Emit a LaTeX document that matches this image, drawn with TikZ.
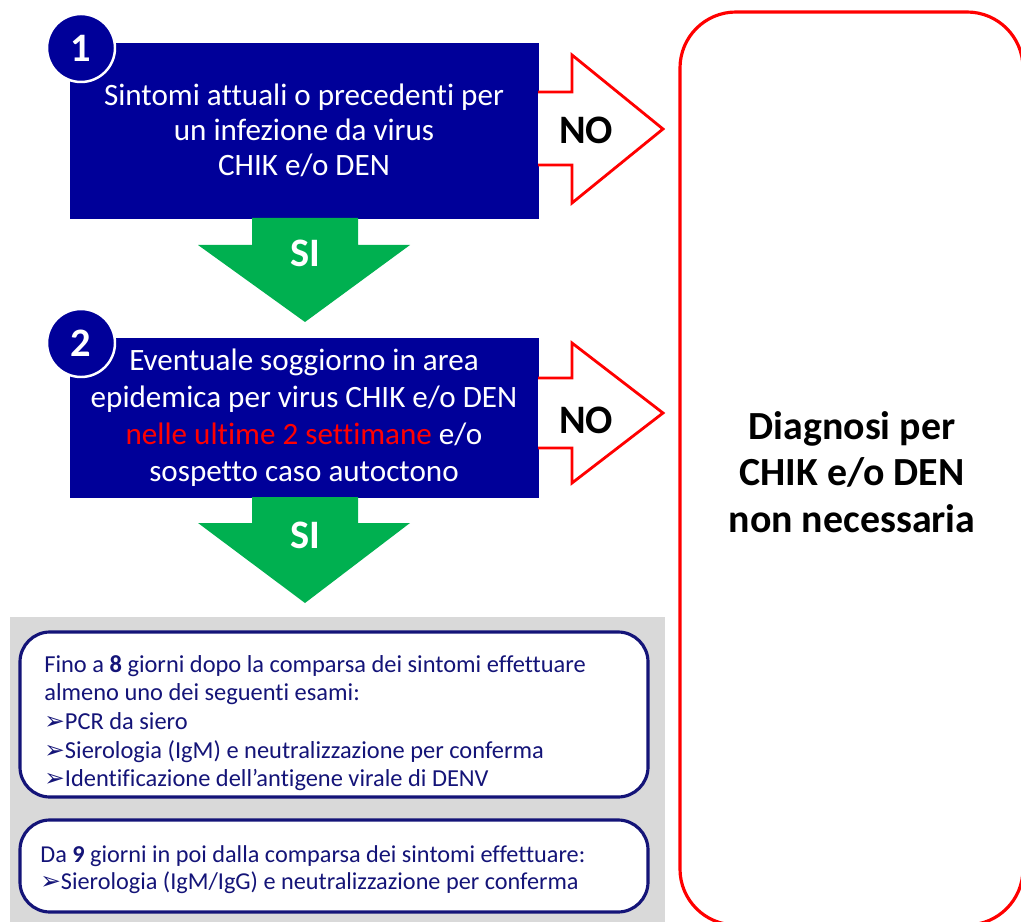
\documentclass[tikz,border=0pt]{standalone}
\usepackage{fontspec}
\setmainfont{Carlito}[Ligatures={NoCommon}]
\newfontfamily\bulletfont{DejaVu Sans}
\usetikzlibrary{positioning}

\definecolor{stepblue}{RGB}{0,0,153}
\definecolor{textblue}{RGB}{20,20,120}
\definecolor{sigreen}{RGB}{0,176,80}
\definecolor{nored}{RGB}{255,0,0}
\definecolor{panelgray}{RGB}{217,217,217}

\newcommand{\arrowbullet}{{\bulletfont\fontsize{14}{12}\selectfont\char"27A2}}

\tikzset{
  stepbox/.style={fill=stepblue, draw=stepblue, minimum width=9.36cm, inner sep=0pt,
    text=white, align=center, font=\fontsize{17.7}{19.8}\selectfont},
  stepnum/.style={circle, fill=stepblue, draw=white, line width=1.4pt, minimum size=1.36cm,
    inner sep=0pt, text=white, font=\bfseries\fontsize{23}{24}\selectfont},
  noarrow/.style={fill=white, draw=nored, line width=1.6pt, line join=miter},
  siarrow/.style={fill=sigreen, draw=none},
  arrowlabel/.style={font=\bfseries\fontsize{23}{24}\selectfont},
  exambox/.style={fill=white, draw=textblue, line width=1.8pt, rounded corners=0.6cm}
}

\begin{document}
\begin{tikzpicture}[x=0.02cm, y=-0.02cm]
  \useasboundingbox (0,0) rectangle (1021,922);

  % Drawing the red box on the right
  \draw [draw=nored, line width=1.8pt, rounded corners=1.12cm] (680,12) rectangle (1023,925);
  \node (diagnosi) at (852,472) [align=center, font=\bfseries\fontsize{22.7}{26.6}\selectfont]
    {Diagnosi per\\CHIK e/o DEN\\non necessaria};

  % Drawing step 1
  \node (step1) at (304,130.5) [stepbox, minimum height=3.5cm]
    {Sintomi attuali o precedenti per\\un infezione da virus\\CHIK e/o DEN};
  \node (num1) at (81,48) [stepnum] {1};

  % Drawing NO arrow of step 1
  \draw [noarrow] (538,92) -- (572,92) -- (572,55) -- (663,129) -- (572,203) -- (572,165) -- (538,165);
  \node (no1) at (586,130) [arrowlabel] {NO};

  % Drawing SI arrow of step 1
  \fill [siarrow] (252,218) -- (358,218) -- (358,245) -- (410,245) -- (305,322) -- (198,245) -- (252,245) -- cycle;
  \node (si1) at (305,253) [arrowlabel, text=white] {SI};

  % Drawing step 2
  \node (step2) at (304,417.5) [stepbox, minimum height=3.18cm, font=\fontsize{17.7}{21}\selectfont]
    {Eventuale soggiorno in area\\epidemica per virus CHIK e/o DEN\\
     \textcolor{nored}{nelle ultime 2 settimane} e/o\\sospetto caso autoctono};
  \node (num2) at (81,343) [stepnum] {2};

  % Drawing NO arrow of step 2
  \draw [noarrow] (538,378) -- (572,378) -- (572,343) -- (663,413) -- (572,483) -- (572,448) -- (538,448);
  \node (no2) at (586,420) [arrowlabel] {NO};

  % Drawing SI arrow of step 2
  \fill [siarrow] (252,497) -- (358,497) -- (358,523) -- (410,523) -- (305,603) -- (198,523) -- (252,523) -- cycle;
  \node (si2) at (305,535) [arrowlabel, text=white] {SI};

  % Drawing the gray panel with the exams
  \fill [panelgray] (10,617) rectangle (665,922);
  \draw [exambox] (20,632) rectangle (648,797);
  \node (exam1) at (44,655) [anchor=north west, inner sep=0pt, align=left, text=textblue,
    font=\fontsize{13.9}{16.3}\selectfont]
    {Fino a \textbf{8} giorni dopo la comparsa dei sintomi effettuare\\
     almeno uno dei seguenti esami:\\
     \arrowbullet PCR da siero\\
     \arrowbullet Sierologia (IgM) e neutralizzazione per conferma\\
     \arrowbullet Identificazione dell’antigene virale di DENV};
  \draw [exambox] (20,820) rectangle (648,912);
  \node (exam2) at (40,845) [anchor=north west, inner sep=0pt, align=left, text=textblue,
    font=\fontsize{13.8}{15.5}\selectfont]
    {Da \textbf{9} giorni in poi dalla comparsa dei sintomi effettuare:\\
     \arrowbullet Sierologia (IgM/IgG) e neutralizzazione per conferma};
\end{tikzpicture}
\end{document}
